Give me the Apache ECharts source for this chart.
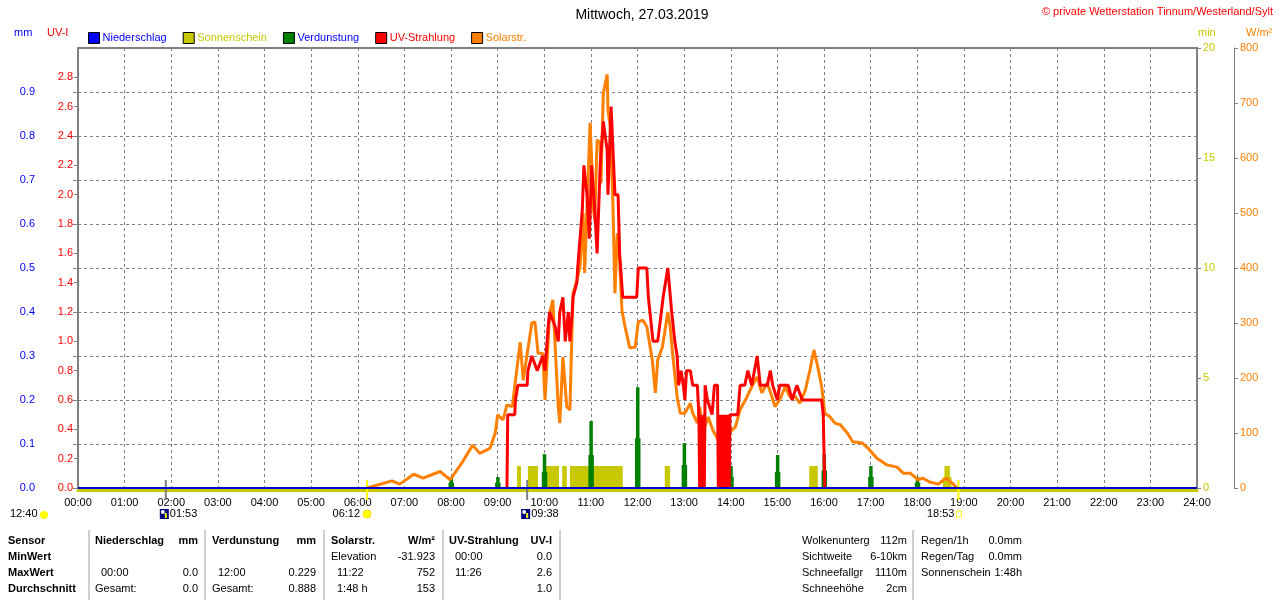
<!DOCTYPE html>
<html lang="de">
  <head>
    <meta charset="UTF-8" />
    <title>Mittwoch, 27.03.2019</title>
    <script src="https://cdn.jsdelivr.net/npm/echarts@6/dist/echarts.min.js"></script>
    <style>
      html,
      body {
        margin: 0;
        padding: 0;
        background: #fff;
      }
      #chart {
        width: 1280px;
        height: 600px;
      }
    </style>
  </head>
  <body>
    <div id="chart"></div>
    <script>
      // Zeiten in Minuten seit 00:00
      const solarTime = [
        372, 382, 404, 414, 432, 444, 466, 479, 495, 508, 517, 530, 537, 540, 547, 552, 559, 562, 569, 573,
        584, 588, 592, 598, 601, 607, 611, 618, 620, 624, 629, 633, 637, 642, 646, 650, 652, 659, 661, 663,
        665, 668, 672, 673, 676, 681, 682, 685, 688, 691, 694, 697, 700, 704, 710, 717, 721, 727, 732, 739,
        743, 746, 752, 759, 762, 766, 771, 775, 781, 788, 791, 797, 800, 804, 811, 817, 826, 833, 839, 846,
        852, 861, 867, 874, 880, 887, 893, 897, 903, 910, 916, 923, 929, 936, 942, 947, 952, 957, 961, 968,
        974, 981, 990, 997, 1009, 1017, 1028, 1041, 1054, 1062, 1071, 1081, 1087, 1096, 1107, 1117, 1125, 1131,
      ];
      const solarValue = [
        0, 4, 13, 7, 25, 18, 30, 15, 48, 78, 63, 72, 100, 133, 124, 151, 148, 184, 265, 196,
        300, 302, 245, 245, 160, 318, 342, 148, 118, 238, 148, 142, 354, 378, 402, 500, 391, 664, 596, 511,
        487, 633, 627, 554, 718, 752, 687, 656, 536, 354, 463, 414, 323, 293, 255, 256, 302, 305, 293, 233,
        173, 233, 256, 320, 293, 233, 166, 136, 136, 154, 136, 118, 148, 100, 129, 105, 82, 87, 102, 111,
        142, 166, 184, 202, 173, 191, 166, 148, 160, 184, 166, 166, 154, 178, 215, 251, 220, 184, 136, 129,
        118, 115, 100, 84, 82, 72, 54, 42, 38, 27, 27, 15, 18, 11, 7, 18, 9, 0,
      ];

      const uvTime = [
        552, 553, 562, 563, 566, 578, 579, 584, 591, 598, 601, 605, 607, 614, 618, 620, 624, 627, 631, 633,
        636, 637, 642, 643, 649, 651, 655, 658, 661, 665, 668, 672, 676, 681, 682, 686, 688, 691, 695, 697,
        701, 719, 721, 732, 734, 740, 746, 753, 759, 764, 768, 771, 773, 776, 779, 781, 783, 788, 791, 797,
        799, 800, 801, 802, 803, 804, 805, 806, 807, 810, 816, 819, 823, 824, 825, 826, 827, 828, 829, 830,
        831, 832, 833, 834, 835, 836, 837, 838, 839, 841, 849, 852, 858, 862, 867, 874, 878, 887, 891, 894,
        900, 903, 914, 919, 925, 932, 957, 959, 961,
      ];
      const uvValue = [
        0, 0.5, 0.5, 0.6, 0.7, 0.7, 0.8, 0.9, 0.8, 0.9, 0.8, 1.1, 1.2, 1.1, 1.0, 1.2, 1.3, 1.0, 1.2, 1.0,
        1.2, 1.3, 1.4, 1.5, 1.9, 2.2, 2.0, 1.7, 2.2, 1.9, 1.6, 2.2, 2.5, 2.3, 2.0, 2.6, 2.6, 2.0, 2.0, 1.6,
        1.3, 1.3, 1.5, 1.5, 1.3, 1.0, 1.0, 1.3, 1.5, 1.2, 1.0, 0.9, 0.7, 0.8, 0.7, 0.6, 0.8, 0.8, 0.7, 0.7,
        0.5, 0, 0.5, 0, 0.4, 0, 0.5, 0, 0.7, 0.6, 0.5, 0.7, 0.7, 0, 0.5, 0, 0.5, 0, 0.5, 0,
        0.4, 0, 0.5, 0, 0.5, 0, 0.5, 0, 0.5, 0.5, 0.5, 0.7, 0.7, 0.8, 0.7, 0.9, 0.7, 0.7, 0.8, 0.7,
        0.6, 0.7, 0.7, 0.6, 0.7, 0.6, 0.6, 0.5, 0,
      ];

      // Verdunstung, stündlich (mm) und der breitere untere Teil
      const evapTime = [480, 540, 600, 660, 720, 780, 840, 900, 960, 1020, 1080];
      const evapValue = [0.025, 0.025, 0.077, 0.152, 0.229, 0.102, 0.05, 0.075, 0.077, 0.05, 0.025];
      const evapLow = [0.012, 0.012, 0.036, 0.075, 0.113, 0.052, 0.025, 0.036, 0.04, 0.025, 0.012];

      // Sonnenschein-Intervalle (min)
      const sunStart = [565, 579, 602, 623, 633, 755, 941, 1113];
      const sunEnd = [570, 592, 619, 629, 701, 762, 952, 1124];
      const sunValue = [1, 1, 1, 1, 1, 1, 1, 0.5];
      const sunStart2 = [1115];
      const sunEnd2 = [1122];
      const sunValue2 = [1];

      // Niederschlag (mm)
      const rainTime = [0, 1440];
      const rainValue = [0, 0];

      // Mond / Sonne
      const eventTimes = [113, 372, 578, 1133];
      const eventLabels = ["01:53", "06:12", "09:38", "18:53"];
      const eventKinds = ["moon", "sun", "moon", "sunset"];

      // Tabelle
      const tableHead = ["Sensor", "Niederschlag", "mm", "Verdunstung", "mm", "Solarstr.", "W/m²", "UV-Strahlung", "UV-I"];
      const tableMin = ["MinWert", "", "", "", "", "Elevation", "-31.923", "00:00", "0.0"];
      const tableMax = ["MaxWert", "00:00", "0.0", "12:00", "0.229", "11:22", "752", "11:26", "2.6"];
      const tableAvg = ["Durchschnitt", "Gesamt:", "0.0", "Gesamt:", "0.888", "1:48 h", "153", "", "1.0"];
      const infoLabels = ["Wolkenunterg", "Sichtweite", "Schneefallgr", "Schneehöhe"];
      const infoValues = ["112m", "6-10km", "1110m", "2cm"];
      const rainLabels = ["Regen/1h", "Regen/Tag", "Sonnenschein"];
      const rainInfo = ["0.0mm", "0.0mm", "1:48h"];

      const FONT = '"Liberation Sans", Arial, sans-serif';
      const GRAY = "#808080";
      const zip = (a, b) => a.map((v, i) => [v, b[i]]);
      const pad = (n) => (n < 10 ? "0" : "") + n;

      const chart = echarts.init(document.getElementById("chart"));

      // Texte unten
      const graphics = [];
      const txt = (text, x, y, opt) =>
        graphics.push({
          type: "text",
          silent: true,
          style: Object.assign(
            {
              text: text,
              x: x,
              y: y,
              fill: "#000",
              fontSize: 11,
              fontFamily: FONT,
              textVerticalAlign: "middle",
            },
            opt || {}
          ),
        });

      const rowsY = [541, 557, 573, 589];
      const tableRows = [tableHead, tableMin, tableMax, tableAvg];
      const groupX = [[95, 198], [212, 316], [331, 435], [449, 552]];
      tableRows.forEach((row, r) => {
        const bold = r === 0 ? "bold" : "normal";
        txt(row[0], 8, rowsY[r], { fontWeight: "bold" });
        groupX.forEach((g, k) => {
          const left = row[1 + k * 2];
          const right = row[2 + k * 2];
          const indent = r > 0 && /^\d/.test(left) ? 6 : 0;
          if (left) txt(left, g[0] + indent, rowsY[r], { fontWeight: bold });
          if (right) txt(right, g[1], rowsY[r], { fontWeight: bold, textAlign: "right" });
        });
      });
      [89, 205, 324, 443, 560, 913].forEach((x) =>
        graphics.push({
          type: "line",
          silent: true,
          shape: { x1: x, y1: 530, x2: x, y2: 600 },
          style: { stroke: "#a0a0a0", lineWidth: 1 },
        })
      );
      infoLabels.forEach((l, i) => {
        txt(l, 802, rowsY[i]);
        txt(infoValues[i], 907, rowsY[i], { textAlign: "right" });
      });
      rainLabels.forEach((l, i) => {
        txt(l, 921, rowsY[i]);
        txt(rainInfo[i], 1022, rowsY[i], { textAlign: "right" });
      });

      // Kopfzeile
      txt("Mittwoch, 27.03.2019", 642, 15, { fontSize: 14, textAlign: "center" });
      txt("© private Wetterstation Tinnum/Westerland/Sylt", 1273, 12, { fill: "#ff0000", textAlign: "right" });
      txt("mm", 14, 33, { fill: "#0000ff" });
      txt("UV-I", 47, 33, { fill: "#ff0000" });
      txt("min", 1198, 33, { fill: "#c8c800" });
      txt("W/m²", 1246, 33, { fill: "#ff8000" });

      // Mondphase links
      txt("12:40", 10, 514);
      graphics.push({
        type: "circle",
        silent: true,
        shape: { cx: 44, cy: 515, r: 4 },
        style: { fill: "#ffff00" },
      });

      const legendItem = (name, color, textColor) => ({
        name: name,
        itemStyle: { color: color, borderColor: "#000", borderWidth: 1 },
        textStyle: { color: textColor },
      });

      const sunRender = (params, api) => {
        const p0 = api.coord([api.value(0), api.value(2)]);
        const p1 = api.coord([api.value(1), 0]);
        return {
          type: "rect",
          shape: { x: p0[0], y: p0[1], width: p1[0] - p0[0], height: p1[1] - p0[1] },
          style: { fill: "#c8c800" },
        };
      };

      const option = {
        animation: false,
        backgroundColor: "#fff",
        textStyle: { fontFamily: FONT },
        legend: {
          left: 83,
          top: 27,
          itemWidth: 11,
          itemHeight: 11,
          itemGap: 16,
          icon: "rect",
          selectedMode: false,
          textStyle: { fontSize: 11, fontFamily: FONT, padding: [0, 0, 0, -2] },
          data: [
            legendItem("Niederschlag", "#0000ff", "#0000ff"),
            legendItem("Sonnenschein", "#c8c800", "#c8c800"),
            legendItem("Verdunstung", "#008000", "#0000ff"),
            legendItem("UV-Strahlung", "#ff0000", "#ff0000"),
            legendItem("Solarstr.", "#ff8000", "#ff8000"),
          ],
        },
        grid: {
          left: 78,
          right: 83,
          top: 48,
          bottom: 112,
          show: true,
          borderColor: GRAY,
          borderWidth: 2,
          backgroundColor: "#fff",
        },
        xAxis: {
          type: "value",
          min: 0,
          max: 1440,
          interval: 60,
          offset: 2,
          axisLine: { show: true, onZero: false, lineStyle: { color: "#c8c800", width: 3 } },
          axisTick: { show: false },
          axisLabel: {
            color: "#000",
            fontSize: 11,
            margin: 7,
            formatter: (v) => pad(v / 60) + ":00",
          },
          splitLine: { show: true, lineStyle: { color: GRAY, type: [3, 3], width: 1 } },
        },
        yAxis: [
          {
            // mm
            type: "value",
            position: "left",
            offset: 37,
            min: 0,
            max: 1,
            interval: 0.1,
            axisLine: { show: true, lineStyle: { color: GRAY } },
            axisTick: { show: true, length: 5, lineStyle: { color: GRAY } },
            axisLabel: { color: "#0000ff", fontSize: 11, margin: 6, showMaxLabel: false, formatter: (v) => v.toFixed(1) },
            splitLine: { show: true, lineStyle: { color: GRAY, type: [3, 3], width: 1 } },
          },
          {
            // UV-I
            type: "value",
            position: "left",
            offset: 0,
            min: 0,
            max: 3,
            interval: 0.2,
            axisLine: { show: false },
            axisTick: { show: true, length: 4, lineStyle: { color: GRAY } },
            axisLabel: { color: "#ff0000", fontSize: 11, margin: 5, showMaxLabel: false, formatter: (v) => v.toFixed(1) },
            splitLine: { show: false },
          },
          {
            // min
            type: "value",
            position: "right",
            offset: 0,
            min: 0,
            max: 20,
            interval: 5,
            axisLine: { show: false },
            axisTick: { show: true, length: 4, lineStyle: { color: GRAY } },
            axisLabel: { color: "#c8c800", fontSize: 11, margin: 6 },
            splitLine: { show: false },
          },
          {
            // W/m²
            type: "value",
            position: "right",
            offset: 37,
            min: 0,
            max: 800,
            interval: 100,
            axisLine: { show: true, lineStyle: { color: GRAY } },
            axisTick: { show: true, length: 4, lineStyle: { color: GRAY } },
            axisLabel: { color: "#ff8000", fontSize: 11, margin: 6 },
            splitLine: { show: false },
          },
        ],
        series: [
          {
            name: "Sonnenschein",
            type: "custom",
            yAxisIndex: 2,
            silent: true,
            encode: { x: [0, 1], y: 2 },
            data: sunStart.map((s, i) => [s, sunEnd[i], sunValue[i]]),
            renderItem: sunRender,
          },
          {
            name: "Sonnenschein",
            type: "custom",
            yAxisIndex: 2,
            silent: true,
            encode: { x: [0, 1], y: 2 },
            data: sunStart2.map((s, i) => [s, sunEnd2[i], sunValue2[i]]),
            renderItem: sunRender,
          },
          {
            name: "Solarstr.",
            type: "line",
            yAxisIndex: 3,
            symbol: "none",
            silent: true,
            lineStyle: { color: "#ff8000", width: 3 },
            itemStyle: { color: "#ff8000" },
            data: zip(solarTime, solarValue),
          },
          {
            name: "UV-Strahlung",
            type: "line",
            yAxisIndex: 1,
            symbol: "none",
            silent: true,
            lineStyle: { color: "#ff0000", width: 3 },
            itemStyle: { color: "#ff0000" },
            data: zip(uvTime, uvValue),
          },
          {
            name: "Verdunstung",
            type: "custom",
            yAxisIndex: 0,
            silent: true,
            encode: { x: 0, y: 1 },
            data: evapTime.map((t, i) => [t, evapValue[i], evapLow[i]]),
            renderItem: (params, api) => {
              const top = api.coord([api.value(0), api.value(1)]);
              const mid = api.coord([api.value(0), api.value(2)]);
              const base = api.coord([api.value(0), 0]);
              return {
                type: "group",
                children: [
                  {
                    type: "rect",
                    shape: { x: top[0] - 1.5, y: top[1], width: 3.5, height: base[1] - top[1] },
                    style: { fill: "#008000" },
                  },
                  {
                    type: "rect",
                    shape: { x: mid[0] - 2.5, y: mid[1], width: 5.5, height: base[1] - mid[1] },
                    style: { fill: "#008000" },
                  },
                ],
              };
            },
          },
          {
            name: "Niederschlag",
            type: "line",
            yAxisIndex: 0,
            symbol: "none",
            silent: true,
            lineStyle: { color: "#0000c8", width: 2 },
            itemStyle: { color: "#0000ff" },
            data: zip(rainTime, rainValue),
          },
          {
            name: "Ereignisse",
            type: "custom",
            yAxisIndex: 0,
            silent: true,
            clip: false,
            data: eventTimes.map((t, i) => [t, 0, i]),
            renderItem: (params, api) => {
              const i = api.value(2);
              const p = api.coord([api.value(0), 0]);
              const x = p[0];
              const y = p[1] + 26;
              const kind = eventKinds[i];
              const isMoon = kind === "moon";
              const children = [
                {
                  type: "line",
                  shape: { x1: x, y1: p[1] - 8, x2: x, y2: p[1] + 12 },
                  style: { stroke: isMoon ? GRAY : "#ffff00", lineWidth: 2 },
                },
              ];
              if (isMoon) {
                children.push(
                  { type: "rect", shape: { x: x - 6, y: y - 5, width: 9, height: 10 }, style: { fill: "#000080" } },
                  { type: "circle", shape: { cx: x - 3, cy: y - 2, r: 2 }, style: { fill: "#ffffff" } },
                  { type: "rect", shape: { x: x - 1, y: y - 1, width: 2, height: 5 }, style: { fill: "#ffff00" } },
                  {
                    type: "text",
                    style: { text: eventLabels[i], x: x + 4, y: y, fontSize: 11, fontFamily: FONT, fill: "#000", textVerticalAlign: "middle" },
                  }
                );
              } else if (kind === "sun") {
                children.push(
                  { type: "circle", shape: { cx: x, cy: y, r: 4 }, style: { fill: "#ffff00", stroke: "#ffe000", lineWidth: 1 } },
                  {
                    type: "text",
                    style: { text: eventLabels[i], x: x - 7, y: y, fontSize: 11, fontFamily: FONT, fill: "#000", textAlign: "right", textVerticalAlign: "middle" },
                  }
                );
              } else {
                children.push(
                  { type: "rect", shape: { x: x - 2, y: y - 3, width: 5, height: 6 }, style: { fill: "none", stroke: "#ffff00", lineWidth: 1 } },
                  {
                    type: "text",
                    style: { text: eventLabels[i], x: x - 4, y: y, fontSize: 11, fontFamily: FONT, fill: "#000", textAlign: "right", textVerticalAlign: "middle" },
                  }
                );
              }
              return { type: "group", children: children };
            },
          },
        ],
        graphic: graphics,
      };

      chart.setOption(option);
    </script>
  </body>
</html>
